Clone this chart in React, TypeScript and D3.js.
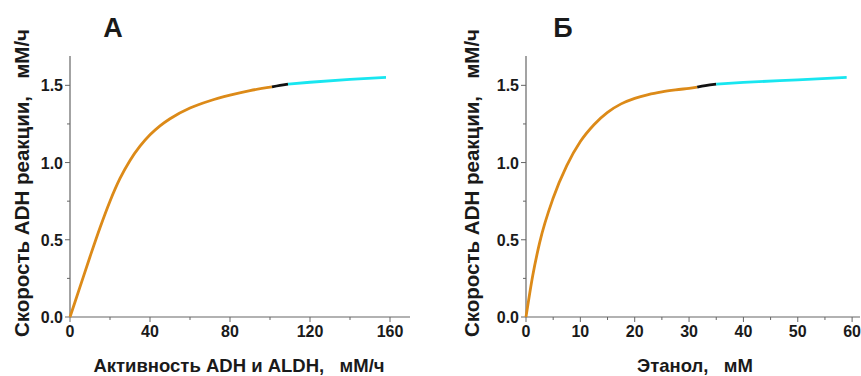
import * as d3 from "d3";

// panel A: активность ADH и ALDH
const aOrangeX = [0, 5, 10, 15, 20, 25, 30, 35, 40, 45, 50, 60, 70, 80, 90, 101];
const aOrangeY = [0, 0.195, 0.39, 0.578, 0.75, 0.897, 1.014, 1.106, 1.18, 1.238, 1.284, 1.353, 1.4, 1.436, 1.466, 1.49];
const aBlackX = [101, 105, 109];
const aBlackY = [1.49, 1.5, 1.508];
const aCyanX = [109, 120, 140, 158];
const aCyanY = [1.508, 1.52, 1.538, 1.551];
const aTicksX = [0, 40, 80, 120, 160];

// panel B: этанол
const bOrangeX = [0, 1.25, 2.5, 5, 7.5, 10, 12.5, 15, 17.5, 20, 22.5, 25, 27.5, 30, 31.5];
const bOrangeY = [0, 0.27, 0.48, 0.77, 0.98, 1.136, 1.245, 1.325, 1.38, 1.416, 1.44, 1.457, 1.47, 1.481, 1.488];
const bBlackX = [31.5, 33, 35];
const bBlackY = [1.488, 1.498, 1.508];
const bCyanX = [35, 40, 50, 59];
const bCyanY = [1.508, 1.519, 1.536, 1.551];
const bTicksX = [0, 10, 20, 30, 40, 50, 60];

const yTicks = [0, 0.5, 1.0, 1.5];
const yLabel = "Скорость ADH реакции,   мМ/ч";

const FONT = "'Liberation Sans', Arial, sans-serif";
const AXIS = "#666";
const TXT = "#1a1a1a";

type Seg = { xs: number[]; ys: number[]; color: string };

function Panel(props: {
  left: number; right: number; xMax: number; ticks: number[];
  title: string; titleX: number; yLabX: number; xLab: string; xLabX: number;
  segs: Seg[];
}) {
  const { left, right, xMax, ticks, title, titleX, yLabX, xLab, xLabX, segs } = props;
  const x = d3.scaleLinear().domain([0, xMax]).range([left, right]);
  const y = d3.scaleLinear().domain([0, 1.69]).range([317, 56]);
  const step = ticks[1] - ticks[0];
  const minorX = ticks.slice(0, -1).map(t => t + step / 2);
  const minorY = [0.25, 0.75, 1.25];
  const line = d3.line<[number, number]>()
    .x(d => x(d[0]))
    .y(d => y(d[1]))
    .curve(d3.curveMonotoneX);

  return (
    <g fontFamily={FONT} fontWeight="bold">
      <text x={titleX} y={37} textAnchor="middle" fontSize={27} fill={TXT}>{title}</text>
      {/* axes */}
      <line x1={left} x2={left} y1={y(0)} y2={56} stroke={AXIS} strokeWidth={1.2} />
      <line x1={left} x2={right} y1={y(0)} y2={y(0)} stroke={AXIS} strokeWidth={1.2} />
      {ticks.map(t => (
        <g key={"xt" + t}>
          <line x1={x(t)} x2={x(t)} y1={y(0)} y2={y(0) + 5} stroke={AXIS} />
          <text x={x(t)} y={337} textAnchor="middle" fontSize={16} fill={TXT}>{t}</text>
        </g>
      ))}
      {minorX.map(t => (
        <line key={"xm" + t} x1={x(t)} x2={x(t)} y1={y(0)} y2={y(0) + 3} stroke={AXIS} />
      ))}
      {yTicks.map(t => (
        <g key={"yt" + t}>
          <line x1={left - 5} x2={left} y1={y(t)} y2={y(t)} stroke={AXIS} />
          <text x={left - 7} y={y(t) + 6} textAnchor="end" fontSize={16} fill={TXT}>{t.toFixed(1)}</text>
        </g>
      ))}
      {minorY.map(t => (
        <line key={"ym" + t} x1={left - 3} x2={left} y1={y(t)} y2={y(t)} stroke={AXIS} />
      ))}
      {/* curves */}
      {segs.map((s, i) => (
        <path key={i} d={line(s.xs.map((v, j) => [v, s.ys[j]] as [number, number])) || ""}
          fill="none" stroke={s.color} strokeWidth={2.8} strokeLinecap="butt" />
      ))}
      <text transform={`translate(${yLabX},183) rotate(-90)`} textAnchor="middle" fontSize={20.5}
        fill={TXT} style={{ whiteSpace: "pre" }}>{yLabel}</text>
      <text x={xLabX} y={372} textAnchor="middle" fontSize={18.5} fill={TXT}
        style={{ whiteSpace: "pre" }}>{xLab}</text>
    </g>
  );
}

export default function App() {
  return (
    <svg width={861} height={376} style={{ position: "absolute", left: 0, top: 0, background: "#fff" }}>
      <Panel left={70} right={410} xMax={170} ticks={aTicksX} title="А" titleX={113} yLabX={29}
        xLab="Активность ADH и ALDH,   мМ/ч" xLabX={239}
        segs={[
          { xs: aOrangeX, ys: aOrangeY, color: "#dc8a18" },
          { xs: aBlackX, ys: aBlackY, color: "#111" },
          { xs: aCyanX, ys: aCyanY, color: "#18e6f0" },
        ]} />
      <Panel left={526} right={860} xMax={61.45} ticks={bTicksX} title="Б" titleX={563} yLabX={479}
        xLab="Этанол,   мМ" xLabX={695}
        segs={[
          { xs: bOrangeX, ys: bOrangeY, color: "#dc8a18" },
          { xs: bBlackX, ys: bBlackY, color: "#111" },
          { xs: bCyanX, ys: bCyanY, color: "#18e6f0" },
        ]} />
    </svg>
  );
}
